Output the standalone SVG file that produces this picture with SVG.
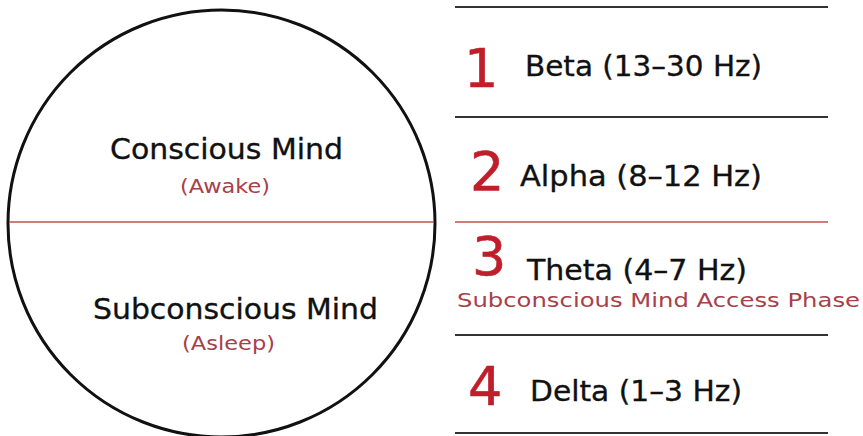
<svg xmlns="http://www.w3.org/2000/svg" width="863" height="436" viewBox="0 0 863 436">
<style>
.t{font-family:"DejaVu Sans","Liberation Sans",sans-serif;fill:#111;stroke:#111;stroke-width:0.35}
.big{font-size:29px}
.sub{font-size:20px;fill:#a8404a;stroke:none}
.num{font-family:"DejaVu Sans","Liberation Sans",sans-serif;font-size:54px;fill:#c01e2a;stroke:#c01e2a;stroke-width:0.6}
.rule{stroke:#333;stroke-width:2}
.red{stroke:#c0504d;stroke-width:1.6}
</style>
<rect width="863" height="436" fill="#fff"/>
<g id="circle">
<circle cx="221.5" cy="223.5" r="213.5" fill="none" stroke="#111" stroke-width="3"/>
<text class="t big" x="110" y="159" textLength="233" lengthAdjust="spacingAndGlyphs">Conscious Mind</text>
<text class="t sub" x="180" y="193" textLength="90" lengthAdjust="spacingAndGlyphs">(Awake)</text>
<text class="t big" x="93" y="319" textLength="285" lengthAdjust="spacingAndGlyphs">Subconscious Mind</text>
<text class="t sub" x="182" y="350" textLength="93" lengthAdjust="spacingAndGlyphs">(Asleep)</text>
</g>
<g id="connectors">
<line class="red" x1="9" y1="222" x2="434" y2="222"/>
<line class="rule" x1="455" y1="7" x2="828" y2="7"/>
<line class="rule" x1="455" y1="117" x2="828" y2="117"/>
<line class="red" x1="455" y1="222" x2="828" y2="222" stroke="#a84848" stroke-width="2"/>
<line class="rule" x1="455" y1="335" x2="828" y2="335"/>
<line class="rule" x1="455" y1="433" x2="828" y2="433"/>
</g>
<g id="beta">
<text class="num" x="464" y="87">1</text>
<text class="t big" x="525" y="76" textLength="237" lengthAdjust="spacingAndGlyphs">Beta (13–30 Hz)</text>
</g>
<g id="alpha">
<text class="num" x="470" y="190">2</text>
<text class="t big" x="520" y="186" textLength="242" lengthAdjust="spacingAndGlyphs">Alpha (8–12 Hz)</text>
</g>
<g id="theta">
<text class="num" x="472" y="275">3</text>
<text class="t big" x="527" y="280" textLength="220" lengthAdjust="spacingAndGlyphs">Theta (4–7 Hz)</text>
<text class="t sub" x="457" y="307" textLength="403" lengthAdjust="spacingAndGlyphs">Subconscious Mind Access Phase</text>
</g>
<g id="delta">
<text class="num" x="468" y="405">4</text>
<text class="t big" x="530" y="401" textLength="212" lengthAdjust="spacingAndGlyphs">Delta (1–3 Hz)</text>
</g>
</svg>
